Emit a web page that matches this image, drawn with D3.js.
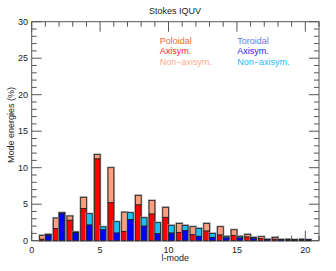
<!DOCTYPE html>
<html>
<head>
<meta charset="utf-8">
<script src="https://cdn.jsdelivr.net/npm/d3@7"></script>
<style>
  body { margin: 0; background: #fff; }
  text { font-family: "Liberation Sans", Arial, sans-serif; }
</style>
</head>
<body>
<svg id="chart" width="336" height="271"></svg>
<script>
// l-modes and energies (%)
let modes = [1, 2, 3, 4, 5, 6, 7, 8, 9, 10, 11, 12, 13, 14, 15, 16, 17, 18, 19, 20];
let polAxi = [0.2, 1.65, 2.8, 4.4, 11.2, 5.2, 1.28, 4.9, 3.65, 3.2, 1.14, 0.82, 1.32, 0.78, 0.73, 0.5, 0.27, 0.2, 0.12, 0.12];
let polTotal = [0.73, 3.1, 3.38, 5.94, 11.8, 10.0, 3.9, 6.2, 5.5, 4.57, 2.37, 1.92, 2.37, 1.92, 1.5, 0.87, 0.55, 0.46, 0.2, 0.2];
let torAxi = [0.75, 3.7, 1.1, 2.15, 1.5, 1.05, 2.9, 2.0, 0.96, 1.05, 1.37, 0.6, 0.46, 0.37, 0.37, 0.32, 0.18, 0.15, 0.12, 0.12];
let torTotal = [0.87, 3.84, 1.2, 3.7, 1.9, 2.6, 3.84, 3.15, 2.47, 2.1, 2.1, 1.69, 1.0, 0.6, 0.6, 0.46, 0.2, 0.18, 0.15, 0.15];

let xTicks = [0, 5, 10, 15, 20];
let yTicks = [0, 5, 10, 15, 20, 25, 30];

let svg = d3.select('#chart');
let x = d3.scaleLinear().domain([0, 21]).range([31.7, 319]);
let y = d3.scaleLinear().domain([0, 30]).range([240.7, 21.7]);
let axisColor = '#555';

// frame
svg.append('rect').attr('x', x(0)).attr('y', y(30))
  .attr('width', x(21) - x(0)).attr('height', y(0) - y(30))
  .attr('fill', 'none').attr('stroke', axisColor).attr('stroke-width', 1);

// ticks: bottom and top
let g = svg.append('g').attr('stroke', axisColor).attr('stroke-width', 1);
d3.range(0, 22).forEach(v => {
  let len = v % 5 === 0 ? 10 : 5;
  g.append('line').attr('x1', x(v)).attr('x2', x(v)).attr('y1', y(0)).attr('y2', y(0) - len);
  g.append('line').attr('x1', x(v)).attr('x2', x(v)).attr('y1', y(30)).attr('y2', y(30) + len);
});
d3.range(0, 31).forEach(v => {
  let len = v % 5 === 0 ? 10 : 5;
  g.append('line').attr('y1', y(v)).attr('y2', y(v)).attr('x1', x(0)).attr('x2', x(0) + len);
  g.append('line').attr('y1', y(v)).attr('y2', y(v)).attr('x1', x(21)).attr('x2', x(21) - len);
});

// bars
let w = 0.42;
let bars = svg.append('g');
function drawBar(x0, x1, axi, total, cAxi, cNon) {
  bars.append('rect').attr('x', x(x0)).attr('y', y(total))
    .attr('width', x(x1) - x(x0)).attr('height', y(0) - y(total))
    .attr('fill', 'none').attr('stroke', '#999').attr('stroke-width', 2.2);
  bars.append('rect').attr('x', x(x0)).attr('y', y(total))
    .attr('width', x(x1) - x(x0)).attr('height', y(axi) - y(total))
    .attr('fill', cNon).attr('stroke', '#222').attr('stroke-width', 0.8);
  bars.append('rect').attr('x', x(x0)).attr('y', y(axi))
    .attr('width', x(x1) - x(x0)).attr('height', y(0) - y(axi))
    .attr('fill', cAxi).attr('stroke', '#222').attr('stroke-width', 0.8);
}
modes.forEach((l, i) => {
  drawBar(l - w, l, polAxi[i], polTotal[i], '#ff0000', '#ff9f7f');
  drawBar(l, l + w, torAxi[i], torTotal[i], '#0000ff', '#1ec0f5');
});

// tick labels
svg.append('g').selectAll('text').data(xTicks).join('text')
  .attr('x', d => x(d)).attr('y', 252.5).attr('text-anchor', 'middle')
  .attr('font-size', 9).attr('fill', '#222').text(d => d);
svg.append('g').selectAll('text').data(yTicks).join('text')
  .attr('x', 28).attr('y', d => y(d) + 3.2).attr('text-anchor', 'end')
  .attr('font-size', 9).attr('fill', '#222').text(d => d);

// titles
svg.append('text').attr('x', 175).attr('y', 14.2).attr('text-anchor', 'middle')
  .attr('font-size', 9).attr('fill', '#222').text('Stokes IQUV');
svg.append('text').attr('x', 175.3).attr('y', 261).attr('text-anchor', 'middle')
  .attr('font-size', 9).attr('fill', '#222').text('l-mode');
svg.append('text').attr('transform', 'translate(14.3,125) rotate(-90)')
  .attr('text-anchor', 'middle').attr('font-size', 9).attr('fill', '#222')
  .text('Mode energies (%)');

// legend
let legendPol = ['Poloidal', 'Axisym.', 'Non\u2212axisym.'];
let legendTor = ['Toroidal', 'Axisym.', 'Non\u2212axisym.'];
let polColors = ['#ff6633', '#ff1a1a', '#ffab8c'];
let torColors = ['#6677ee', '#2222ee', '#22bbff'];
legendPol.forEach((t, i) => {
  svg.append('text').attr('x', 159.7).attr('y', 44 + i * 10.4)
    .attr('font-size', 9).attr('fill', polColors[i]).text(t);
});
legendTor.forEach((t, i) => {
  svg.append('text').attr('x', 237.3).attr('y', 44 + i * 10.4)
    .attr('font-size', 9).attr('fill', torColors[i]).text(t);
});
</script>
</body>
</html>
